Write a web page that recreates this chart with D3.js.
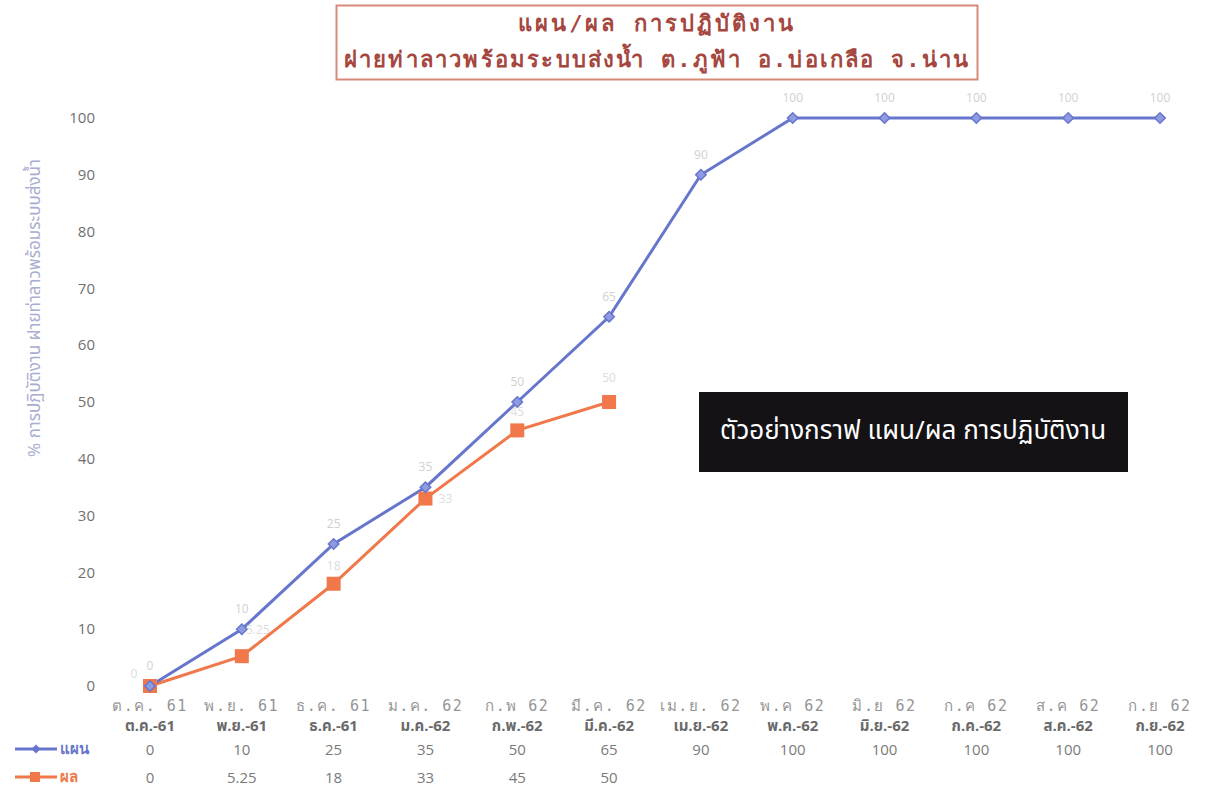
<!DOCTYPE html>
<html><head><meta charset="utf-8">
<script src="https://cdn.jsdelivr.net/npm/d3@7"></script>
<style>
html,body{margin:0;padding:0;background:#fff;}
svg{display:block;}
</style></head>
<body>
<script>
const categoriesTop = ["ต.ค. 61","พ.ย. 61","ธ.ค. 61","ม.ค. 62","ก.พ 62","มี.ค. 62","เม.ย. 62","พ.ค 62","มิ.ย 62","ก.ค 62","ส.ค 62","ก.ย 62"];
const categories = ["ต.ค.-61","พ.ย.-61","ธ.ค.-61","ม.ค.-62","ก.พ.-62","มี.ค.-62","เม.ย.-62","พ.ค.-62","มิ.ย.-62","ก.ค.-62","ส.ค.-62","ก.ย.-62"];
const planValues = [0,10,25,35,50,65,90,100,100,100,100,100];
const actualValues = [0,5.25,18,33,45,50];
const yTicks = [0,10,20,30,40,50,60,70,80,90,100];
const seriesNames = ["แผน","ผล"];
const titleLines = ["แผน/ผล การปฏิบัติงาน","ฝายท่าลาวพร้อมระบบส่งน้ำ  ต.ภูฟ้า อ.บ่อเกลือ จ.น่าน"];
const yLabel = "% การปฏิบัติงาน ฝายท่าลาวพร้อมระบบส่งน้ำ";
const noteText = "ตัวอย่างกราฟ แผน/ผล การปฏิบัติงาน";

const W=1216,H=791;
const blue="#6676cc", orange="#f0784a";
const thaiFont="'Noto Sans Thai','Loma','Garuda','Tlwg Typo','DejaVu Sans','Noto Sans',sans-serif";
const monoFont="'Tlwg Typo','Tlwg Mono','DejaVu Sans Mono','Liberation Mono',monospace";

const svg=d3.select("body").append("svg").attr("width",W).attr("height",H);

const x=d3.scalePoint().domain(categories).range([150,1160]);
const y=d3.scaleLinear().domain([0,100]).range([686,118]);

// title box
svg.append("rect").attr("x",336.5).attr("y",5.5).attr("width",641).attr("height",74)
  .attr("fill","#fff").attr("stroke","#d88a78").attr("stroke-width",2);
svg.selectAll(".title").data(titleLines).enter().append("text")
  .attr("x",657).attr("y",(d,i)=>i===0?31:67).attr("text-anchor","middle")
  .attr("font-family",monoFont).attr("font-weight","bold").attr("font-size",22)
  .attr("letter-spacing",(d,i)=>i===0?3:2.2).attr("fill","#a5473f").text(d=>d);

// y-axis ticks
svg.append("g").selectAll("text").data(yTicks).enter().append("text")
  .attr("x",95).attr("y",d=>y(d)).attr("dy","0.35em").attr("text-anchor","end")
  .attr("font-family","'Open Sans','DejaVu Sans',sans-serif").attr("font-size",15)
  .attr("fill","#707070").text(d=>d);

// y-axis label
svg.append("text").attr("transform","translate(40,308) rotate(-90)")
  .attr("text-anchor","middle").attr("font-family",thaiFont).attr("font-size",17)
  .attr("fill","#a9aed0").text(yLabel);

// lines
const line=d3.line().x((d,i)=>x(categories[i])).y(d=>y(d));
svg.append("path").datum(actualValues).attr("d",line).attr("fill","none")
  .attr("stroke",orange).attr("stroke-width",3);
svg.append("path").datum(planValues).attr("d",line).attr("fill","none")
  .attr("stroke",blue).attr("stroke-width",3);

// markers
svg.append("g").selectAll("rect").data(actualValues).enter().append("rect")
  .attr("x",(d,i)=>x(categories[i])-7).attr("y",d=>y(d)-7)
  .attr("width",14).attr("height",14).attr("fill",orange);
svg.append("g").selectAll("path").data(planValues).enter().append("path")
  .attr("d",d3.symbol().type(d3.symbolSquare).size(55))
  .attr("transform",(d,i)=>`translate(${x(categories[i])},${y(d)}) rotate(45)`)
  .attr("fill","#8f9be0").attr("stroke",blue).attr("stroke-width",1.5);

// faint data labels
svg.append("g").selectAll("text").data(planValues).enter().append("text")
  .attr("x",(d,i)=>x(categories[i])).attr("y",d=>y(d)-16).attr("text-anchor","middle")
  .attr("font-family","'Open Sans',sans-serif").attr("font-size",12).attr("fill","#d0d0d0").text(d=>d);
const actOff=[[-16,-8],[16,-22],[0,-14],[20,4],[0,-14],[0,-20]];
svg.append("g").selectAll("text").data(actualValues).enter().append("text")
  .attr("x",(d,i)=>x(categories[i])+actOff[i][0]).attr("y",(d,i)=>y(d)+actOff[i][1])
  .attr("text-anchor","middle")
  .attr("font-family","'Open Sans',sans-serif").attr("font-size",12).attr("fill","#dcdcdc").text(d=>d);

// x category labels (two rows)
svg.append("g").selectAll("text").data(categoriesTop).enter().append("text")
  .attr("x",(d,i)=>x(categories[i])).attr("y",711).attr("text-anchor","middle")
  .attr("font-family",monoFont).attr("font-size",15).attr("letter-spacing",1.5)
  .attr("fill","#959595").text(d=>d);
svg.append("g").selectAll("text").data(categories).enter().append("text")
  .attr("x",d=>x(d)).attr("y",731).attr("text-anchor","middle")
  .attr("font-family",thaiFont).attr("font-weight","bold").attr("font-size",15)
  .attr("fill","#6a6a6a").text(d=>d);

// data table
svg.append("g").selectAll("text").data(planValues).enter().append("text")
  .attr("x",(d,i)=>x(categories[i])).attr("y",755).attr("text-anchor","middle")
  .attr("font-family","'Open Sans',sans-serif").attr("font-size",15)
  .attr("fill","#7a7a7a").text(d=>d);
svg.append("g").selectAll("text").data(actualValues).enter().append("text")
  .attr("x",(d,i)=>x(categories[i])).attr("y",783).attr("text-anchor","middle")
  .attr("font-family","'Open Sans',sans-serif").attr("font-size",15)
  .attr("fill","#7a7a7a").text(d=>d);

// table legend keys
const keys=[{name:seriesNames[0],c:blue,yy:749,shape:"d"},{name:seriesNames[1],c:orange,yy:777,shape:"s"}];
keys.forEach(k=>{
  svg.append("line").attr("x1",15).attr("x2",57).attr("y1",k.yy).attr("y2",k.yy)
    .attr("stroke",k.c).attr("stroke-width",3);
  if(k.shape==="d"){
    svg.append("path").attr("d",d3.symbol().type(d3.symbolSquare).size(40))
      .attr("transform",`translate(36,${k.yy}) rotate(45)`).attr("fill",k.c);
  } else {
    svg.append("rect").attr("x",30).attr("y",k.yy-5).attr("width",10).attr("height",10).attr("fill",k.c);
  }
  svg.append("text").attr("x",60).attr("y",k.yy).attr("dy","0.35em")
    .attr("font-family",monoFont).attr("font-weight","bold").attr("font-size",15)
    .attr("fill",k.c).text(k.name);
});

// black note box
svg.append("rect").attr("x",699).attr("y",392).attr("width",429).attr("height",80).attr("fill","#141214");
svg.append("text").attr("x",913).attr("y",430).attr("dy","0.35em").attr("text-anchor","middle")
  .attr("font-family",thaiFont).attr("font-size",26).attr("fill","#ffffff").text(noteText);
</script>
</body></html>
